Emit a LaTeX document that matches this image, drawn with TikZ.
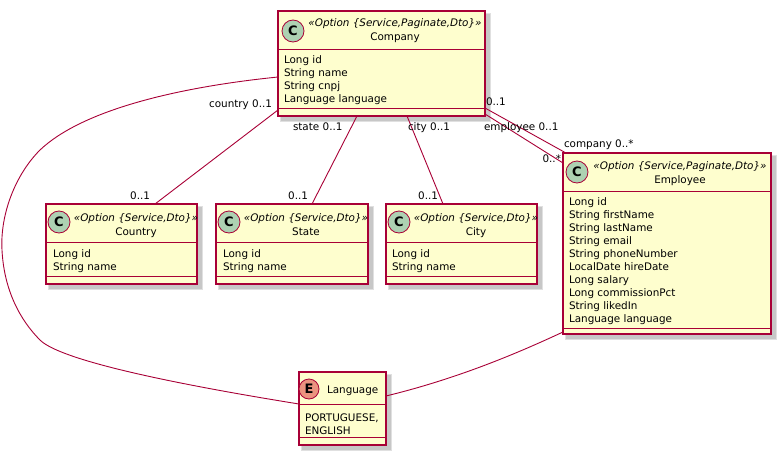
\documentclass[tikz,border=0pt]{standalone}
\usepackage{fontspec}
\setmainfont{DejaVu Sans}
\definecolor{umlfill}{HTML}{FEFECE}
\definecolor{umlred}{HTML}{A80036}
\definecolor{cgreen}{HTML}{ADD1B2}
\definecolor{eorange}{HTML}{EB937F}
\newcommand\umlbox[7]{%
  \fill[black!12] (#2+2,#3+2) rectangle (#4+6,#5+6);
  \fill[black!22] (#2+3,#3+3) rectangle (#4+4.5,#5+4.5);
  \node[classbox, minimum width={(#4-#2)*1pt}, minimum height={(#5-#3)*1pt}] (#1) at (#2,#3) {};
  \draw[sepline] (#2,#6) -- (#4,#6);
  \draw[sepline] (#2,#7) -- (#4,#7);
}
\begin{document}
\begin{tikzpicture}[x=1pt,y=-1pt,
  every node/.style={inner sep=0pt, outer sep=0pt, font=\fontsize{10.4}{13}\selectfont},
  classbox/.style={draw=umlred, fill=umlfill, line width=1.1pt, rectangle, anchor=north west},
  sepline/.style={draw=umlred, line width=1pt},
  assoc/.style={draw=umlred, line width=0.9pt},
  attr/.style={anchor=base west},
  spot/.style={circle, draw=umlred, line width=0.8pt, minimum size=22pt, font=\fontsize{13}{13}\selectfont\bfseries},
  stereo/.style={anchor=base, font=\fontsize{10.4}{13}\selectfont\itshape},
  cname/.style={anchor=base},
  lblw/.style={anchor=base west},
  lble/.style={anchor=base east},
]
\useasboundingbox (0,0) rectangle (780,455);

% ---------- Company ----------
\umlbox{company}{278}{11}{485}{116}{49}{108}
\node[spot, fill=cgreen] (company-spot) at (293,31) {C};
\node[stereo] (company-st) at (395,27) {«Option \{Service,Paginate,Dto\}»};
\node[cname] (company-nm) at (395,41) {Company};
\foreach \t [count=\i from 0] in {Long id, String name, String cnpj, Language language}
  \node[attr] (company-a\i) at (284,63+13*\i) {\t};

% ---------- Employee ----------
\umlbox{employee}{563}{153}{771}{334}{191}{328}
\node[spot, fill=cgreen] (employee-spot) at (577,172) {C};
\node[stereo] (employee-st) at (680,169) {«Option \{Service,Paginate,Dto\}»};
\node[cname] (employee-nm) at (680,183) {Employee};
\foreach \t [count=\i from 0] in {Long id, String firstName, String lastName, String email, String phoneNumber, LocalDate hireDate, Long salary, Long commissionPct, String likedIn, Language language}
  \node[attr] (employee-a\i) at (569,205+13*\i) {\t};

% ---------- Country ----------
\umlbox{country}{46}{204}{197}{284}{242}{276}
\node[spot, fill=cgreen] (country-spot) at (59,222) {C};
\node[stereo] (country-st) at (136,221) {«Option \{Service,Dto\}»};
\node[cname] (country-nm) at (136,235) {Country};
\foreach \t [count=\i from 0] in {Long id, String name}
  \node[attr] (country-a\i) at (53,257+13*\i) {\t};

% ---------- State ----------
\umlbox{state}{216}{204}{368}{284}{242}{276}
\node[spot, fill=cgreen] (state-spot) at (229,222) {C};
\node[stereo] (state-st) at (306,221) {«Option \{Service,Dto\}»};
\node[cname] (state-nm) at (306,235) {State};
\foreach \t [count=\i from 0] in {Long id, String name}
  \node[attr] (state-a\i) at (223,257+13*\i) {\t};

% ---------- City ----------
\umlbox{city}{386}{204}{537}{284}{242}{276}
\node[spot, fill=cgreen] (city-spot) at (399,222) {C};
\node[stereo] (city-st) at (476,221) {«Option \{Service,Dto\}»};
\node[cname] (city-nm) at (476,235) {City};
\foreach \t [count=\i from 0] in {Long id, String name}
  \node[attr] (city-a\i) at (392,257+13*\i) {\t};

% ---------- Language ----------
\umlbox{language}{299}{372}{386}{445}{404}{437}
\node[spot, fill=eorange, minimum size=20pt] (language-spot) at (309,389) {E};
\node[anchor=base west] (language-nm) at (327,393) {Language};
\foreach \t [count=\i from 0] in {{PORTUGUESE,}, ENGLISH}
  \node[attr] (language-a\i) at (305,421+13*\i) {\t};

% ---------- Connectors ----------
\draw[assoc] (company.west |- 0,110) -- (country.north -| 155,0);
\draw[assoc] (company.west |- 0,77)
  .. controls (170,88) and (80,112) .. (40,150)
  .. controls (15,175) and (0,215) .. (2,250)
  .. controls (4,290) and (20,320) .. (40,340)
  .. controls (58,358) and (150,380) .. (language.west |- 0,404);
\draw[assoc] (company.south -| 357,0) -- (state.north -| 312,0);
\draw[assoc] (company.south -| 407,0) -- (city.north -| 443,0);
\draw[assoc] (company.east |- 0,108) -- (employee.north -| 566,0);
\draw[assoc] (company.east |- 0,114) -- (employee.west |- 0,163);
\draw[assoc] (employee.west |- 0,332) .. controls (520,352) and (460,378) .. (language.east |- 0,396);

% ---------- Labels ----------
\node[lble] (l-country1) at (272,107) {country 0..1};
\node[lble] (l-country2) at (150,199) {0..1};
\node[lblw] (l-state1) at (293,130) {state 0..1};
\node[lble] (l-state2) at (308,199) {0..1};
\node[lblw] (l-city1) at (408,130) {city 0..1};
\node[lble] (l-city2) at (438,199) {0..1};
\node[lblw] (l-emp1) at (486,105) {0..1};
\node[lblw] (l-emp2) at (484,130) {employee 0..1};
\node[lblw] (l-emp3) at (564,147) {company 0..*};
\node[lble] (l-emp4) at (561,162) {0..*};
\end{tikzpicture}
\end{document}
